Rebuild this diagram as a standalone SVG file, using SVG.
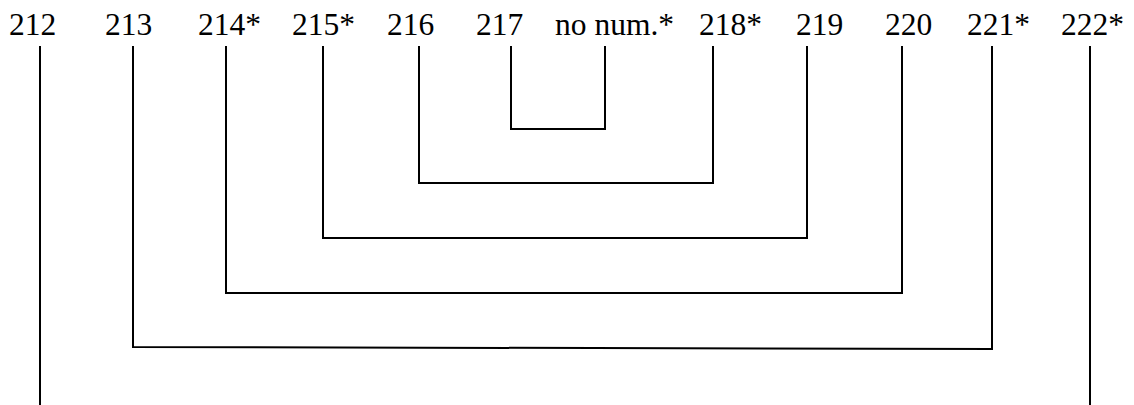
<svg xmlns="http://www.w3.org/2000/svg" width="1134" height="405" viewBox="0 0 1134 405">
<style>
text{font-family:"Liberation Serif","Times New Roman",serif;font-size:31.5px;fill:#000}
.c{fill:none;stroke:#000;stroke-width:2}
</style>
<rect width="1134" height="405" fill="#fff"/>
<g id="n212"><text x="9" y="35">212</text></g>
<g id="n213"><text x="105" y="35">213</text></g>
<g id="n214"><text x="198" y="35">214*</text></g>
<g id="n215"><text x="292" y="35">215*</text></g>
<g id="n216"><text x="387" y="35">216</text></g>
<g id="n217"><text x="476" y="35">217</text></g>
<g id="nnonum"><text x="555" y="35">no num.*</text></g>
<g id="n218"><text x="699" y="35">218*</text></g>
<g id="n219"><text x="796" y="35">219</text></g>
<g id="n220"><text x="885" y="35">220</text></g>
<g id="n221"><text x="967" y="35">221*</text></g>
<g id="n222"><text x="1061" y="35">222*</text></g>
<g id="connectors">
<polyline class="c" points="511,46 511,129 605,129 605,46"/>
<polyline class="c" points="419,46 419,183 713,183 713,46"/>
<polyline class="c" points="323,46 323,238 807,238 807,46"/>
<polyline class="c" points="226,46 226,293 902,293 902,46"/>
<polyline class="c" points="133,46 133,347 992,349 992,46"/>
<line class="c" x1="40" y1="46" x2="40" y2="405"/>
<line class="c" x1="1090" y1="46" x2="1090" y2="405"/>
</g>
</svg>
